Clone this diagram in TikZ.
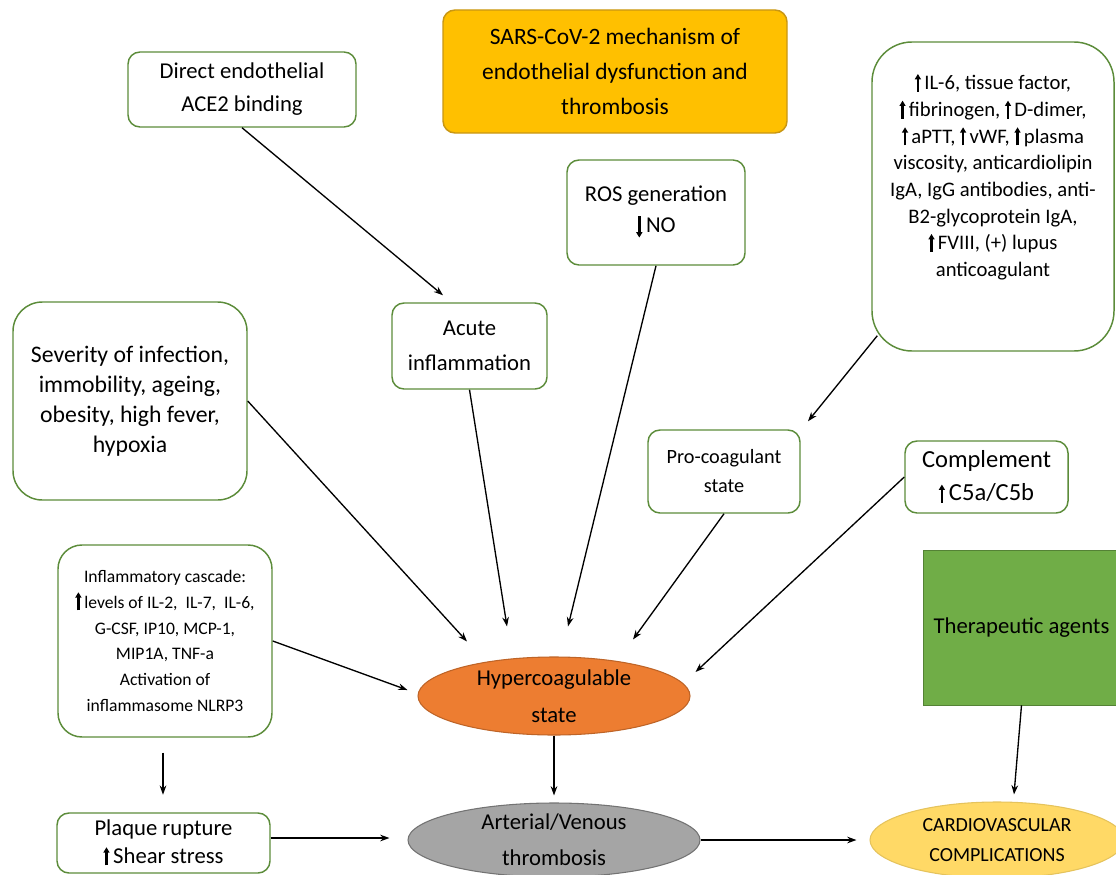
\documentclass[tikz,border=0pt]{standalone}
\usepackage{fontspec}
\setmainfont{Carlito}
\usetikzlibrary{shapes.geometric,arrows.meta,calc}
\definecolor{boxgreen}{RGB}{92,140,58}
\definecolor{titlegold}{RGB}{255,192,0}
\definecolor{titleedge}{RGB}{200,150,20}
\definecolor{hyperorange}{RGB}{237,125,49}
\definecolor{thromgray}{RGB}{165,165,165}
\definecolor{theragreen}{RGB}{112,173,71}
\definecolor{cardioyellow}{RGB}{255,217,102}
% little up/down arrows inside the texts
\newcommand{\upar}{\tikz[baseline=0pt]\draw[line width=1.8pt,-{Triangle[length=4pt,width=4.5pt]}] (0,-1.5pt) -- (0,12pt);\,}
\newcommand{\downar}{\tikz[baseline=0pt]\draw[line width=1.8pt,-{Triangle[length=4pt,width=4.5pt]}] (0,12.5pt) -- (0,-3.5pt);\,}
\begin{document}
\begin{tikzpicture}[x=0.75pt,y=-0.75pt,
  box/.style={draw=boxgreen, line width=1.1pt, rounded corners=9pt, align=center, inner sep=0pt},
  oval/.style={ellipse, line width=0.8pt, inner sep=0pt, align=center},
  big/.style={font=\fontsize{17}{26}\selectfont},
  arr/.style={-{Stealth[length=7pt,width=5pt]}, line width=1pt}]
\useasboundingbox (0,0) rectangle (1116,874);
% title
\node [box, draw=titleedge, fill=titlegold, minimum width=258pt, minimum height=92.25pt,
  font=\fontsize{17.6}{26}\selectfont]
  (title) at (615,71.5) {SARS-CoV-2 mechanism of\\endothelial dysfunction and\\thrombosis};
% causes
\node [box, minimum width=171pt, minimum height=56.25pt, font=\fontsize{17}{24.75}\selectfont]
  (direct) at (242,89.5) {Direct endothelial\\ACE2 binding};
\node [box, minimum width=133.5pt, minimum height=78.75pt, font=\fontsize{17}{23.25}\selectfont]
  (ros) at (656,212.5) {ROS generation\\\downar NO};
\node [box, rounded corners=30pt, minimum width=181.5pt, minimum height=231.75pt] (lab) at (993,196.5) {};
\node [align=center, inner sep=0pt, font=\fontsize{15.5}{20}\selectfont] (labtext) at ($(lab)+(0,-20)$)
  {\upar IL-6, tissue factor,\\\upar fibrinogen, \upar D-dimer,\\
   \upar aPTT, \upar vWF, \upar plasma\\viscosity, anticardiolipin\\IgA, IgG antibodies, anti-\\
   B2-glycoprotein IgA,\\\upar FVIII, (+) lupus\\anticoagulant};
\node [box, big, minimum width=116.25pt, minimum height=64.5pt] (acute) at (469.5,346)
  {Acute\\inflammation};
\node [box, rounded corners=22pt, minimum width=175.5pt, minimum height=148.5pt,
  font=\fontsize{17.8}{22.5}\selectfont] (severity) at (130,401)
  {Severity of infection,\\immobility, ageing,\\obesity, high fever,\\hypoxia};
\node [box, minimum width=114pt, minimum height=62.25pt, font=\fontsize{15.2}{21.75}\selectfont]
  (procoag) at (724,471.5) {Pro-coagulant\\state};
\node [box, minimum width=122.25pt, minimum height=54pt, font=\fontsize{18.4}{25}\selectfont]
  (complement) at (986.5,477) {Complement\\\upar C5a/C5b};
\node [box, rounded corners=18pt, minimum width=160.5pt, minimum height=144pt,
  font=\fontsize{13.2}{19.4}\selectfont] (cascade) at (165,641)
  {Inflammatory cascade:\\\upar levels of IL-2,~ IL-7,~ IL-6,\\
   G-CSF, IP10, MCP-1,\\MIP1A, TNF-a\\Activation of\\inflammasome NLRP3};
\node [big, draw=theragreen!75!black, fill=theragreen, minimum width=147.75pt, minimum height=116.25pt]
  (therapy) at (1021.5,627.5) {Therapeutic agents};
% outcomes
\node [oval, draw=hyperorange!80!black, fill=hyperorange, minimum width=204pt, minimum height=58.5pt,
  font=\fontsize{17}{27.5}\selectfont] (hyper) at (554,696) {Hypercoagulable\\state};
\node [oval, draw=thromgray!70!black, fill=thromgray, minimum width=219pt, minimum height=55.5pt,
  font=\fontsize{17}{27}\selectfont] (thrombo) at (554,840) {Arterial/Venous\\thrombosis};
\node [oval, draw=cardioyellow!90!black, fill=cardioyellow, minimum width=190.5pt, minimum height=57pt,
  font=\fontsize{15}{22.5}\selectfont] (cardio) at (997,840) {CARDIOVASCULAR\\COMPLICATIONS};
\node [box, minimum width=159.75pt, minimum height=45pt, font=\fontsize{17}{21}\selectfont]
  (plaque) at (163.5,843) {Plaque rupture\\\upar Shear stress};
% arrows
\draw [arr] (direct.south) -- ($(acute.north)+(-26.5,-7)$);
\draw [arr] (ros.south) -- ($(hyper.north)+(14,-30)$);
\draw [arr] ($(lab.south west)+(6,-16)$) -- ($(procoag.north)+(84,-8)$);
\draw [arr] (acute.south) -- ($(hyper.north)+(-47,-30)$);
\draw [arr] (severity.east) -- ($(hyper.north)+(-87,-15)$);
\draw [arr] (cascade.east) -- ($(hyper.west)+(-10,-6)$);
\draw [arr] (procoag.south) -- ($(hyper.north)+(79,-17)$);
\draw [arr] (complement.west) -- ($(hyper.east)+(5,-24)$);
\draw [arr] (hyper.south) -- ($(thrombo.north)+(0,-7)$);
\draw [arr] ($(cascade.south)+(-2,15)$) -- ($(cascade.south)+(-2,57)$);
\draw [arr] ($(plaque.east)+(0,-5)$) -- ($(thrombo.west)+(-18,-2)$);
\draw [arr] (thrombo.east) -- ($(cardio.west)+(-13,0)$);
\draw [arr] (therapy.south) -- ($(cardio.north)+(17,-7)$);
\end{tikzpicture}
\end{document}
